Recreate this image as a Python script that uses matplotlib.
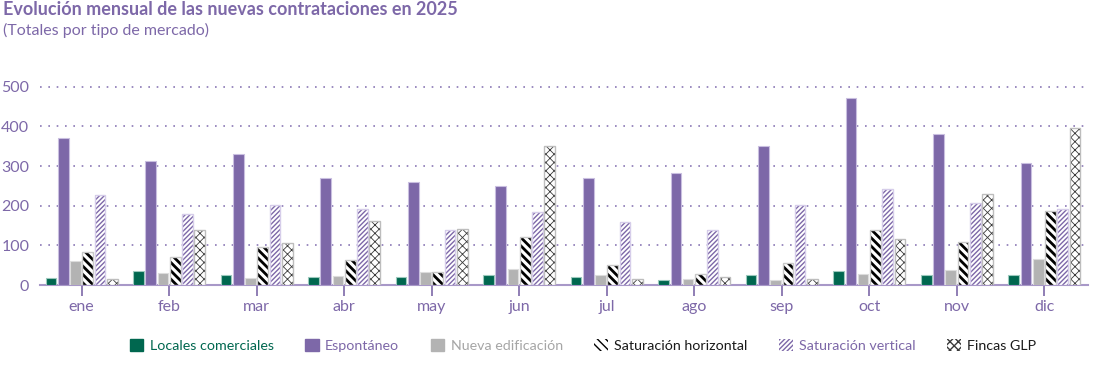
import matplotlib
matplotlib.use("Agg")
import matplotlib.pyplot as plt
import numpy as np
from matplotlib.patches import Patch

plt.rcParams['font.family'] = ['Lato', 'DejaVu Sans']

months = ["ene", "feb", "mar", "abr", "may", "jun", "jul", "ago", "sep", "oct", "nov", "dic"]
locales = [17, 35, 25, 20, 20, 24, 19, 13, 24, 36, 26, 26]
espontaneo = [372, 313, 331, 270, 261, 249, 269, 282, 350, 471, 382, 308]
nueva_edif = [60, 30, 18, 23, 34, 40, 24, 15, 13, 28, 38, 65]
sat_horiz = [83, 70, 96, 63, 32, 121, 50, 27, 55, 138, 108, 187]
sat_vert = [227, 179, 201, 193, 139, 183, 159, 140, 201, 241, 208, 192]
fincas_glp = [14, 140, 106, 161, 141, 350, 15, 19, 15, 116, 229, 396]

series_names = ["Locales comerciales", "Espontáneo", "Nueva edificación",
                "Saturación horizontal", "Saturación vertical", "Fincas GLP"]
series_vals = [locales, espontaneo, nueva_edif, sat_horiz, sat_vert, fincas_glp]

PURPLE = "#7d68a8"
GREEN = "#00674f"
GRAY = "#b3b3b3"
styles = [
    dict(face=GREEN, edge="#9cc9bd", hatch=None, hcol=None, hlw=None, text=GREEN),
    dict(face=PURPLE, edge="#c9bfe0", hatch=None, hcol=None, hlw=None, text=PURPLE),
    dict(face=GRAY, edge="#dcdcdc", hatch=None, hcol=None, hlw=None, text="#a6a6a6"),
    dict(face="white", edge="#c8c8c8", hatch="\\" * 4, hcol="black", hlw=2.0, text="#1a1a1a"),
    dict(face="white", edge="#d6cdea", hatch="/" * 7, hcol=PURPLE, hlw=1.0, text=PURPLE),
    dict(face="white", edge="#bdbdbd", hatch="x" * 4, hcol="#3a3a3a", hlw=0.6, text="#1a1a1a"),
]

fig = plt.figure(figsize=(10.93, 3.66), dpi=100)
ax = fig.add_axes([0.037, 0.2213, 0.9585, 0.5956])

x = np.arange(len(months))
step = 0.14
width = 0.122
for i, (vals, st) in enumerate(zip(series_vals, styles)):
    pos = x + (i - 2.5) * step
    if st["hatch"] is None:
        ax.bar(pos, vals, width, color=st["face"], edgecolor=st["edge"], linewidth=0.8, zorder=3)
    else:
        with plt.rc_context({"hatch.linewidth": st["hlw"], "hatch.color": st["hcol"]}):
            bars = ax.bar(pos, vals, width, color="white", edgecolor=st["hcol"],
                          linewidth=0, hatch=st["hatch"], zorder=3)
            for b in bars:
                if hasattr(b, "set_hatch_linewidth"):
                    b.set_hatch_linewidth(st["hlw"])
        ax.bar(pos, vals, width, fill=False, edgecolor=st["edge"], linewidth=1.0, zorder=4)

ax.set_xlim(-0.47, len(months) - 0.5)
ax.set_ylim(0, 550)
ax.set_yticks([0, 100, 200, 300, 400, 500])
ax.set_xticks(x)
ax.set_xticklabels(months)
ax.tick_params(axis="x", colors=PURPLE, length=8, width=1.2, labelsize=11.5, pad=3)
ax.tick_params(axis="y", colors=PURPLE, length=0, labelsize=11.5, pad=8)
for lbl in ax.get_xticklabels() + ax.get_yticklabels():
    lbl.set_color(PURPLE)

for s in ["top", "right", "left"]:
    ax.spines[s].set_visible(False)
ax.spines["bottom"].set_color("#a898c8")
ax.spines["bottom"].set_linewidth(1.5)
ax.yaxis.grid(True, linestyle=(0, (1, 4)), color="#8a78b5", linewidth=1.2, zorder=0)
ax.set_axisbelow(True)

fig.text(0.003, 0.997, "Evolución mensual de las nuevas contrataciones en 2025",
         color=PURPLE, fontsize=13, fontweight="bold", va="top", ha="left")
fig.text(0.003, 0.937, "(Totales por tipo de mercado)",
         color=PURPLE, fontsize=11.5, va="top", ha="left")

handles = []
for name, st in zip(series_names, styles):
    if st["hatch"] is None:
        handles.append(Patch(facecolor=st["face"], edgecolor=st["face"], label=name))
    else:
        handles.append(Patch(facecolor="white", edgecolor=st["hcol"], hatch=st["hatch"],
                             linewidth=0, label=name))
leg = fig.legend(handles=handles, loc="center left", bbox_to_anchor=(0.1185, 0.057), ncol=6,
                 frameon=False, fontsize=10.3, handlelength=0.95, handleheight=0.95,
                 handletextpad=0.45, columnspacing=2.2, borderpad=0, borderaxespad=0,
                 labelcolor=[st["text"] for st in styles])

fig.savefig("out.png", dpi=100)
